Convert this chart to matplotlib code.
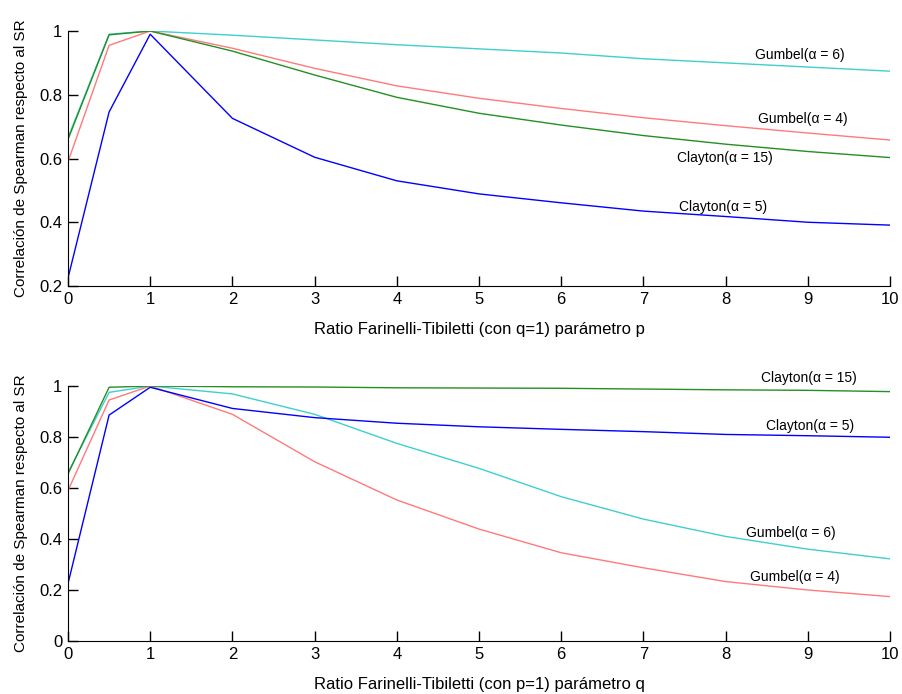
import numpy as np
import matplotlib
matplotlib.use('Agg')
import matplotlib.pyplot as plt

plt.rcParams['font.family'] = ['Liberation Sans', 'DejaVu Sans']

# parametro p (o q) del ratio Farinelli-Tibiletti
x = [0, 0.5, 1, 2, 3, 4, 5, 6, 7, 8, 9, 10]

# con q = 1, variando p
p_clayton5 = [0.225, 0.746, 0.99, 0.726, 0.604, 0.530, 0.489, 0.461, 0.435, 0.418, 0.400, 0.391]
p_clayton15 = [0.66, 0.988, 1.0, 0.937, 0.862, 0.792, 0.742, 0.705, 0.672, 0.645, 0.622, 0.603]
p_gumbel4 = [0.59, 0.955, 1.0, 0.946, 0.883, 0.828, 0.789, 0.757, 0.728, 0.703, 0.680, 0.658]
p_gumbel6 = [0.665, 0.99, 1.0, 0.987, 0.972, 0.957, 0.944, 0.931, 0.913, 0.900, 0.887, 0.874]

# con p = 1, variando q
q_clayton5 = [0.225, 0.886, 0.995, 0.912, 0.876, 0.854, 0.840, 0.830, 0.821, 0.810, 0.805, 0.799]
q_clayton15 = [0.655, 0.995, 1.0, 0.997, 0.996, 0.993, 0.992, 0.991, 0.988, 0.985, 0.983, 0.978]
q_gumbel4 = [0.59, 0.945, 1.0, 0.889, 0.703, 0.553, 0.439, 0.346, 0.287, 0.233, 0.200, 0.174]
q_gumbel6 = [0.66, 0.975, 1.0, 0.969, 0.889, 0.775, 0.677, 0.566, 0.478, 0.410, 0.360, 0.322]

c_blue = '#0000ff'
c_green = '#248f24'
c_red = '#ff7a7a'
c_cyan = '#3fcfcf'

fig = plt.figure(figsize=(9.03, 6.94), dpi=100)
ax1 = fig.add_axes([0.0753, 0.5879, 0.9103, 0.3674])
ax2 = fig.add_axes([0.0753, 0.0764, 0.9103, 0.3674])

def style(ax, ymin, xlabel):
    ax.set_xlim(0, 10)
    ax.set_ylim(ymin, 1)
    ax.set_xticks(range(0, 11))
    yt = np.round(np.arange(ymin, 1.001, 0.2), 1)
    ax.set_yticks(yt)
    ax.set_yticklabels([('%g' % v) for v in yt])
    ax.spines['top'].set_visible(False)
    ax.spines['right'].set_visible(False)
    ax.tick_params(direction='in', length=7, width=1, labelsize=12, pad=4)
    ax.set_xlabel(xlabel, fontsize=12, labelpad=11)
    ax.set_ylabel('Correlación de Spearman respecto al SR', fontsize=11, labelpad=8)

# panel superior
ax1.plot(x, p_gumbel6, color=c_cyan, lw=1)
ax1.plot(x, p_gumbel4, color=c_red, lw=1)
ax1.plot(x, p_clayton15, color=c_green, lw=1)
ax1.plot(x, p_clayton5, color=c_blue, lw=1)
ax1.text(8.36, 0.925, 'Gumbel(\u03b1 = 6)', fontsize=10, va='center')
ax1.text(8.39, 0.724, 'Gumbel(\u03b1 = 4)', fontsize=10, va='center')
ax1.text(7.41, 0.603, 'Clayton(\u03b1 = 15)', fontsize=10, va='center')
ax1.text(7.43, 0.449, 'Clayton(\u03b1 = 5)', fontsize=10, va='center')
style(ax1, 0.2, 'Ratio Farinelli-Tibiletti (con q=1) parámetro p')

# panel inferior
ax2.plot(x, q_gumbel6, color=c_cyan, lw=1)
ax2.plot(x, q_gumbel4, color=c_red, lw=1)
ax2.plot(x, q_clayton5, color=c_blue, lw=1)
ax2.plot(x, q_clayton15, color=c_green, lw=1)
ax2.text(8.43, 1.03, 'Clayton(\u03b1 = 15)', fontsize=10, va='center')
ax2.text(8.49, 0.843, 'Clayton(\u03b1 = 5)', fontsize=10, va='center')
ax2.text(8.25, 0.425, 'Gumbel(\u03b1 = 6)', fontsize=10, va='center')
ax2.text(8.30, 0.252, 'Gumbel(\u03b1 = 4)', fontsize=10, va='center')
style(ax2, 0.0, 'Ratio Farinelli-Tibiletti (con p=1) parámetro q')

fig.savefig('out.png', dpi=100)
